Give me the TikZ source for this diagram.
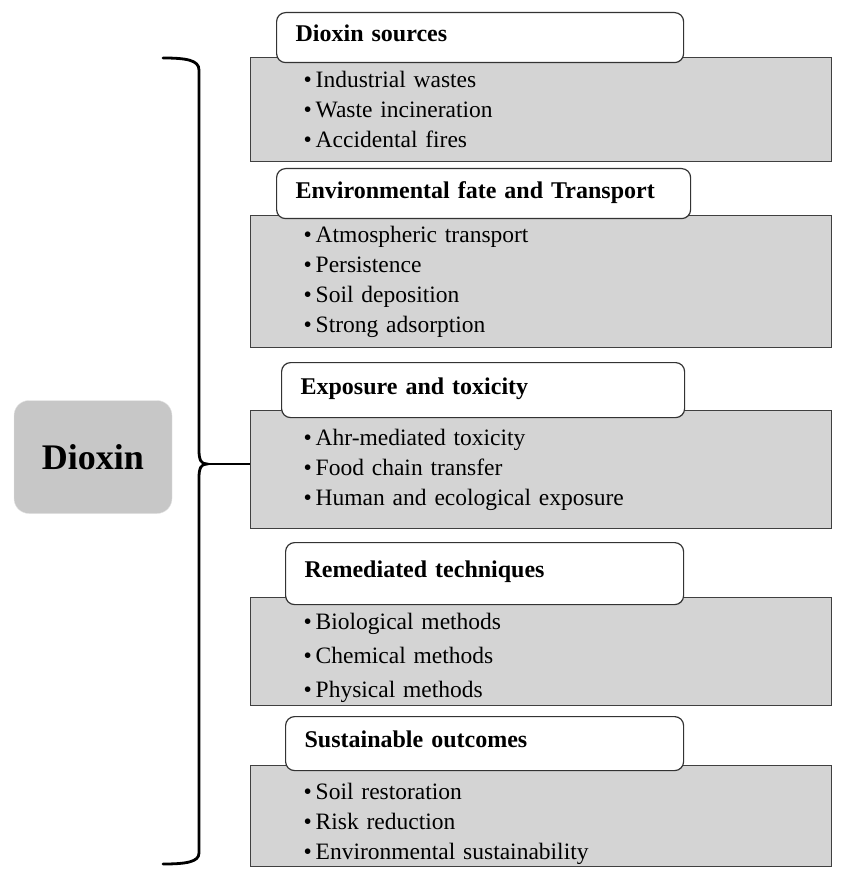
\documentclass[tikz,border=0pt]{standalone}
\usepackage{fontspec}
\setmainfont{Liberation Serif}
\usetikzlibrary{positioning}

\begin{document}
\begin{tikzpicture}[x=1pt, y=-1pt, every node/.style={font=\fontsize{23.5}{30}\selectfont},
  panel/.style={draw=black!75, line width=1.2pt, fill=black!17, text width=475pt,
    inner xsep=53pt, inner ysep=0pt, align=left, anchor=north west},
  head/.style={draw=black!80, line width=1.2pt, fill=white, rounded corners=9pt,
    inner xsep=19pt, inner ysep=0pt, text depth=8pt, align=left, anchor=north west,
    font=\bfseries\fontsize{24}{28}\selectfont},
  root/.style={draw=black!10, fill=black!22, rounded corners=15pt, minimum width=158pt,
    minimum height=113pt, font=\bfseries\fontsize{36}{40}\selectfont}]
\useasboundingbox (0,0) rectangle (846,882);

% Main topic
\node[root] (dioxin) at (93,457) {Dioxin};

% Grey panels with the lists
\node[panel, minimum height=104pt] (src) at (250,57)
  {\textbullet\,Industrial wastes\\ \textbullet\,Waste incineration\\ \textbullet\,Accidental fires};
\node[panel, minimum height=132pt] (fate) at (250,215)
  {\textbullet\,Atmospheric transport\\ \textbullet\,Persistence\\ \textbullet\,Soil deposition\\ \textbullet\,Strong adsorption};
\node[panel, minimum height=118pt] (expo) at (250,410)
  {\textbullet\,Ahr-mediated toxicity\\ \textbullet\,Food chain transfer\\ \textbullet\,Human and ecological exposure};
\node[panel, minimum height=108pt, font=\fontsize{23.5}{34}\selectfont] (rem) at (250,597)
  {\rule{0pt}{28pt}\textbullet\,Biological methods\\ \textbullet\,Chemical methods\\ \textbullet\,Physical methods};
\node[panel, minimum height=101pt] (sus) at (250,765)
  {\rule{0pt}{32pt}\textbullet\,Soil restoration\\ \textbullet\,Risk reduction\\ \textbullet\,Environmental sustainability};

% Headers on top of the panels
\node[head, text width=369pt, minimum height=50pt] (srcHead) at (276,12) {Dioxin sources};
\node[head, text width=376pt, minimum height=50pt] (fateHead) at (276,168) {Environmental fate and Transport};
\node[head, text width=365pt, minimum height=55pt] (expoHead) at (281,362) {Exposure and toxicity};
\node[head, text width=360pt, minimum height=62pt] (remHead) at (285,542) {Remediated techniques};
\node[head, text width=360pt, minimum height=54pt] (susHead) at (285,716) {Sustainable outcomes};

% Brace
\coordinate (tip) at (207,464);
\draw[line width=2.8pt, line cap=round]
  (163,58) .. controls (186,58) and (199,60) .. (199,70) -- (199,450)
  .. controls (199,460) and (201,464) .. (tip)
  .. controls (201,464) and (199,468) .. (199,478) -- (199,853)
  .. controls (199,862) and (186,864) .. (163,864);
\draw[line width=2.8pt] (tip) -- (expo.west |- tip);
\end{tikzpicture}
\end{document}
